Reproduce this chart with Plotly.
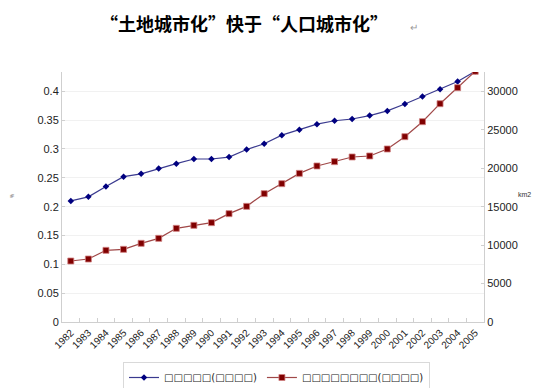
import plotly.graph_objects as go

years = [str(y) for y in range(1982, 2006)]
rate = [0.210, 0.217, 0.235, 0.252, 0.257, 0.266, 0.2745, 0.2826, 0.2826, 0.286,
        0.299, 0.309, 0.324, 0.3335, 0.343, 0.349, 0.352, 0.358, 0.366, 0.378,
        0.391, 0.4035, 0.417, 0.4347]
area = [7930, 8190, 9320, 9450, 10230, 10880, 12180, 12570, 12920, 14090,
        15040, 16690, 17990, 19330, 20290, 20850, 21460, 21590, 22500, 24100,
        26050, 28390, 30470, 32600]
name1 = "□□□□□(□□□□)"
name2 = "□□□□□□□□(□□□□)"
title = "“土地城市化”快于“人口城市化”"

# page body has an 8px margin; work in window pixels and subtract it
OFF = 8
W, H = 553 - OFF, 388 - OFF
L, R, T, B = 62, 484, 72, 322          # plot area in window pixels

def px(xw):
    return (xw - L) / (R - L)

def py(yw):
    return (B - yw) / (B - T)

fig = go.Figure()
fig.add_trace(go.Scatter(
    x=years, y=rate, name=name1, mode="lines+markers",
    line=dict(color="#3a3a8f", width=1.2),
    marker=dict(symbol="diamond", size=5, color="#000080"),
))
fig.add_trace(go.Scatter(
    x=years, y=area, name=name2, mode="lines+markers", yaxis="y2",
    line=dict(color="#a04848", width=1.2),
    marker=dict(symbol="square", size=6, color="#800000",
                line=dict(color="#d08080", width=0.8)),
))

axfont = dict(family="Liberation Sans, Arial, sans-serif", size=11, color="#222")
fig.update_layout(
    width=W, height=H,
    margin=dict(l=L - OFF, r=W - (R - OFF), t=T - OFF, b=H - (B - OFF), autoexpand=False),
    paper_bgcolor="white", plot_bgcolor="white",
    title=dict(text="<b>" + title + "</b>", xref="container", x=(244 - OFF) / W,
               xanchor="center", yref="container", y=1 - (25 - OFF) / H, yanchor="middle",
               font=dict(family="Noto Sans CJK SC", size=18, color="#000")),
    xaxis=dict(type="category", range=[-0.5, 23.5], tickangle=-45, automargin=False,
               tickfont=dict(family="Liberation Sans, Arial, sans-serif", size=10, color="#222"),
               showline=True, linecolor="#cfcfcf", linewidth=1,
               ticks="inside", ticklen=4, tickcolor="#cfcfcf", tickson="boundaries",
               showgrid=False, zeroline=False),
    yaxis=dict(range=[0, 0.4335], dtick=0.05, tickfont=axfont, automargin=False,
               showline=True, linecolor="#cfcfcf", linewidth=1,
               ticks="inside", ticklen=3, tickcolor="#cfcfcf",
               showgrid=True, gridcolor="#f1f1f1", zeroline=False),
    yaxis2=dict(range=[0, 32512], dtick=5000, overlaying="y", side="right",
                tickformat="d", automargin=False,
                tickfont=axfont, showline=True, linecolor="#cfcfcf", linewidth=1,
                ticks="inside", ticklen=3, tickcolor="#cfcfcf",
                showgrid=False, zeroline=False),
    legend=dict(orientation="h", x=px(123), xanchor="left",
                y=py(362), yanchor="top",
                bordercolor="#d9d9d9", borderwidth=1, bgcolor="white",
                font=dict(family="DejaVu Sans", size=10, color="#222"),
                itemwidth=30, tracegroupgap=0),
    showlegend=True,
)
fig.add_annotation(text="↵", xref="paper", yref="paper",
                   x=px(414), y=py(27), xanchor="center", yanchor="middle",
                   showarrow=False, font=dict(size=10, color="#999"))
fig.add_annotation(text="%", xref="paper", yref="paper",
                   x=px(12), y=py(196), textangle=-90, xanchor="center", yanchor="middle",
                   showarrow=False, font=dict(size=5, color="#666"))
fig.add_annotation(text="km2", xref="paper", yref="paper",
                   x=px(524), y=py(194), xanchor="center", yanchor="middle",
                   showarrow=False, font=dict(family="Liberation Sans", size=7, color="#333"))

fig.write_html("out.html")
